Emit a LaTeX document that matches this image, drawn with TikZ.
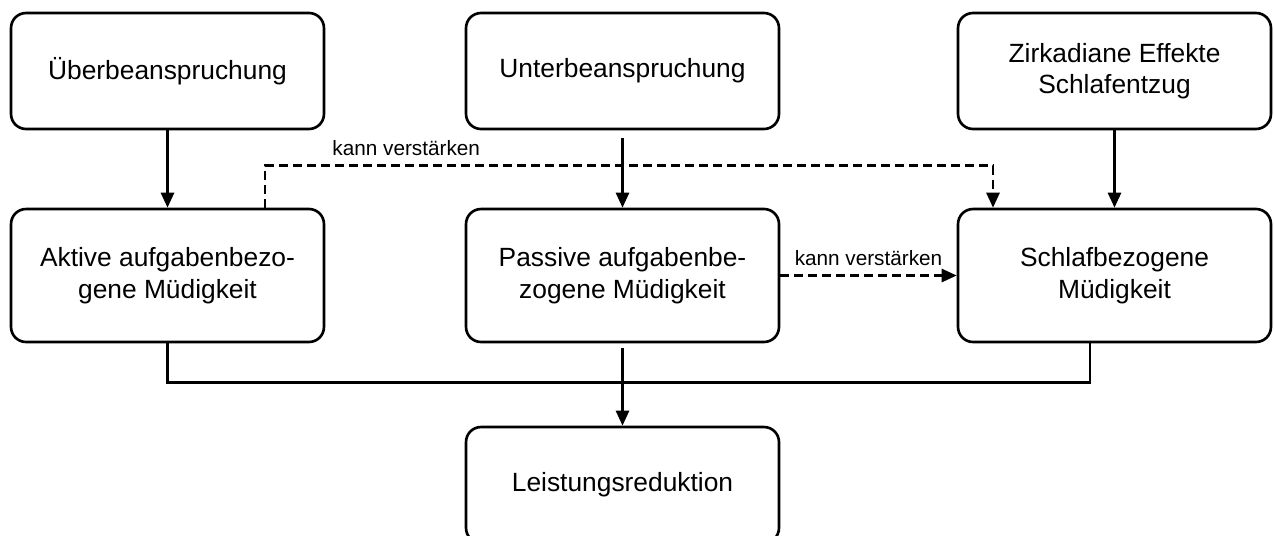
\documentclass[tikz,border=0pt]{standalone}
\usepackage{fontspec}
\setmainfont{Liberation Sans}
\usepackage{tikz}
\usetikzlibrary{arrows.meta, calc, positioning}

\tikzset{
  box/.style={draw, rounded corners=0.3cm, minimum width=6.26cm,
    minimum height=2.32cm, align=center, font=\fontsize{15}{18}\selectfont},
  tallbox/.style={box, minimum height=2.66cm},
  flow/.style={-{Triangle[length=0.3cm, width=0.26cm]}},
  maybe/.style={flow, dash pattern=on 0.18cm off 0.1cm},
  tag/.style={font=\fontsize{11.8}{14}\selectfont, inner sep=1pt},
}

\begin{document}
\begin{tikzpicture}[x=0.02cm, y=-0.02cm, line width=1.5pt]
  \useasboundingbox (0, 0) rectangle (1274, 535);
  \clip (0, 0) rectangle (1274, 535);

  % causes
  \node[box] (ueber) at (167.5, 71) {Überbeanspruchung};
  \node[box] (unter) at (622.5, 71) {Unterbeanspruchung};
  \node[box] (zirk) at (1114.5, 71) {Zirkadiane Effekte\\Schlafentzug};

  % kinds of fatigue
  \node[tallbox] (aktiv) at (167.5, 275.5) {Aktive aufgabenbezo-\\gene Müdigkeit};
  \node[tallbox] (passiv) at (622.5, 275.5) {Passive aufgabenbe-\\zogene Müdigkeit};
  \node[tallbox] (schlaf) at (1114.5, 275.5) {Schlafbezogene\\Müdigkeit};

  % effect
  \node[box] (leist) at (622.5, 485) {Leistungsreduktion};

  \draw[flow] (ueber) -- (aktiv);
  \draw[flow, shorten <=0.16cm] (unter) -- (passiv);
  \draw[flow] (zirk) -- (schlaf);

  \draw[maybe] ($(aktiv.north)+(97.5, 0)$) -- ++(0, -42)
    -| node[tag, pos=0.097, above=0.14cm] {kann verstärken}
    ($(schlaf.north)+(-121.5, 0)$);
  \draw[maybe] (passiv.east) -- node[tag, above=0.14cm] {kann verstärken} (schlaf.west);

  \draw (aktiv.south) -- ++(0, 39) -| ($(schlaf.south)+(-24.5, 0)$);
  \draw[flow, shorten <=0.1cm] (passiv) -- (leist);
\end{tikzpicture}
\end{document}
